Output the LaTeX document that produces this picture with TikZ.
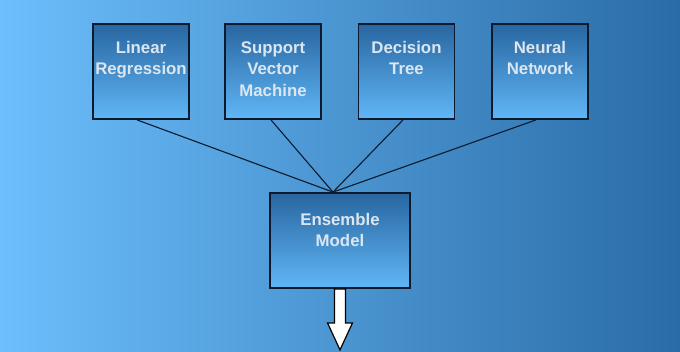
\documentclass[tikz,border=0pt]{standalone}
\usepackage{fontspec}
\setmainfont{Liberation Sans}
\definecolor{bgl}{HTML}{6CBEFC}
\definecolor{bgr}{HTML}{2A6CA6}
\definecolor{btop}{HTML}{2866A0}
\definecolor{bbot}{HTML}{60B6F6}
\definecolor{boxline}{HTML}{0C1A2E}
\definecolor{txt}{HTML}{DCE6F0}
\begin{document}
\begin{tikzpicture}[x=1pt,y=-1pt,
  box/.style={draw=boxline,line width=1.8pt,top color=btop,bottom color=bbot,
    minimum width=96pt,minimum height=95pt,inner sep=0pt},
  lbl/.style={text=txt,font=\bfseries\fontsize{16.8}{21.5}\selectfont,align=center,
    anchor=north,inner sep=0pt},
  conn/.style={draw=boxline,line width=1.1pt}]
\useasboundingbox (0,0) rectangle (680,351);
\fill[left color=bgl,right color=bgr] (0,0) rectangle (680,351);
% boxes
\node[box] (b1) at (141,71.5) {};
\node[box] (b2) at (273,71.5) {};
\node[box] (b3) at (406.5,71.5) {};
\node[box] (b4) at (540,71.5) {};
\node[box,minimum width=140pt] (ens) at (340,240.5) {};
% labels
\node[lbl] (t1) at ([yshift=-18pt]b1.north) {Linear\\Regression};
\node[lbl] (t2) at ([yshift=-18pt]b2.north) {Support\\Vector\\Machine};
\node[lbl] (t3) at ([yshift=-18pt]b3.north) {Decision\\Tree};
\node[lbl] (t4) at ([yshift=-18pt]b4.north) {Neural\\Network};
\node[lbl] (te) at ([yshift=-21pt]ens.north) {Ensemble\\Model};
% connectors
\coordinate (hub) at ([xshift=-7pt]ens.north);
\draw[conn] ([xshift=-4pt]b1.south) -- (hub);
\draw[conn] ([xshift=-2pt]b2.south) -- (hub);
\draw[conn] ([xshift=-3.5pt]b3.south) -- (hub);
\draw[conn] ([xshift=-4pt]b4.south) -- (hub);
% output arrow
\draw[draw=black,line width=1.2pt,fill=white,line join=miter]
  ([xshift=-5.5pt]ens.south) -- ++(0,34) -- ++(-7,0) -- ++(12.5,27)
  -- ++(12.5,-27) -- ++(-7,0) -- ++(0,-34) -- cycle;
\end{tikzpicture}
\end{document}
